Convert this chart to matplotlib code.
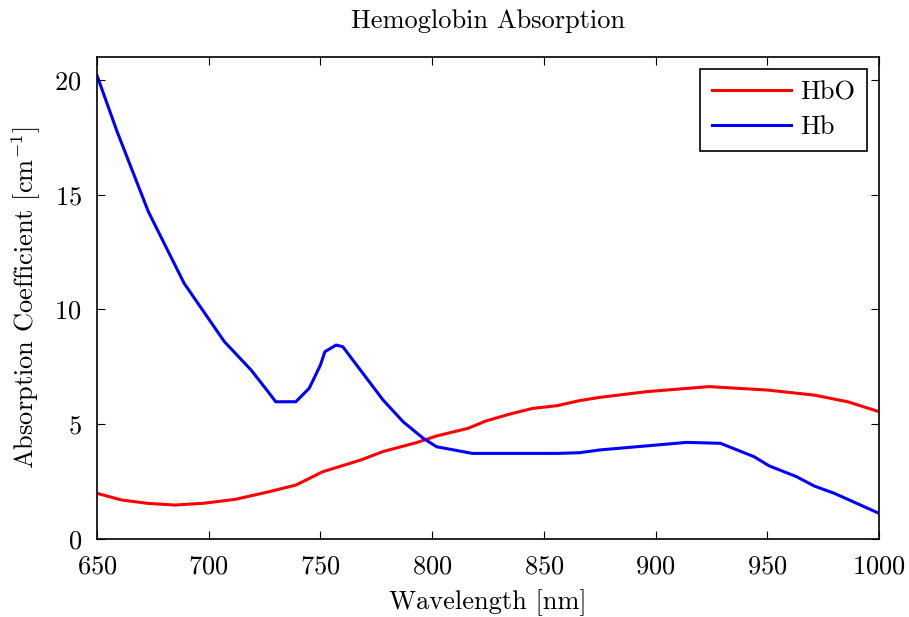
import numpy as np
import matplotlib
matplotlib.use("Agg")
import matplotlib.pyplot as plt

plt.rcParams["font.family"] = "serif"
plt.rcParams["font.serif"] = ["cmr10"]
plt.rcParams["mathtext.fontset"] = "cm"
plt.rcParams["axes.unicode_minus"] = False
plt.rcParams["axes.formatter.use_mathtext"] = True

# wavelengths [nm] and absorption coefficients [1/cm]
wl_hbo = [650, 661, 673, 685, 698, 712, 727, 739, 751, 768, 778, 793, 802,
          816, 824, 835, 845, 856, 866, 875, 896, 924, 936, 950, 971, 986, 1000]
hbo = [1.99, 1.70, 1.55, 1.48, 1.56, 1.73, 2.06, 2.35, 2.93, 3.44, 3.81, 4.20, 4.49,
       4.82, 5.14, 5.45, 5.69, 5.81, 6.03, 6.17, 6.42, 6.64, 6.57, 6.49, 6.27, 5.98, 5.55]

wl_hb = [650, 659, 673, 689, 707, 719, 726, 730, 739, 745, 750, 752, 757, 760,
         778, 787, 796, 802, 818, 856, 866, 875, 914, 929, 944, 951, 963, 971,
         980, 1000]
hb = [20.2, 17.75, 14.26, 11.14, 8.6, 7.36, 6.49, 5.98, 5.98, 6.57, 7.58, 8.16, 8.45, 8.38,
      6.06, 5.11, 4.39, 4.02, 3.73, 3.73, 3.76, 3.88, 4.21, 4.17, 3.59, 3.18, 2.72, 2.31,
      1.99, 1.12]

fs = 19
fig = plt.figure(figsize=(9.09, 6.17), dpi=100)
ax = fig.add_axes([0.1067, 0.1264, 0.8603, 0.7812])
ax.plot(wl_hbo, hbo, color="red", linewidth=2.2, label="HbO")
ax.plot(wl_hb, hb, color="blue", linewidth=2.2, label="Hb")

ax.set_xlim(650, 1000)
ax.set_ylim(0, 21)
ax.set_xticks(np.arange(650, 1001, 50))
ax.set_yticks([0, 5, 10, 15, 20])
ax.tick_params(direction="in", top=True, right=True, labelsize=fs, length=6)
ax.tick_params(axis="x", pad=11)
ax.tick_params(axis="y", pad=11)
for s in ax.spines.values():
    s.set_linewidth(1.2)

ax.set_xlabel("Wavelength [nm]", fontsize=fs, labelpad=8)
ax.set_ylabel(r"Absorption Coefficient [cm$^{-1}$]", fontsize=fs, labelpad=8)
ax.set_title("Hemoglobin Absorption", fontsize=fs, pad=21)

leg = ax.legend(loc="upper right", fontsize=fs, fancybox=False, framealpha=1,
                edgecolor="black", handlelength=3.0, handletextpad=0.35,
                borderpad=0.45, borderaxespad=0.45, labelspacing=0.4)
leg.get_frame().set_linewidth(1.2)

plt.savefig("out.png", dpi=100)
